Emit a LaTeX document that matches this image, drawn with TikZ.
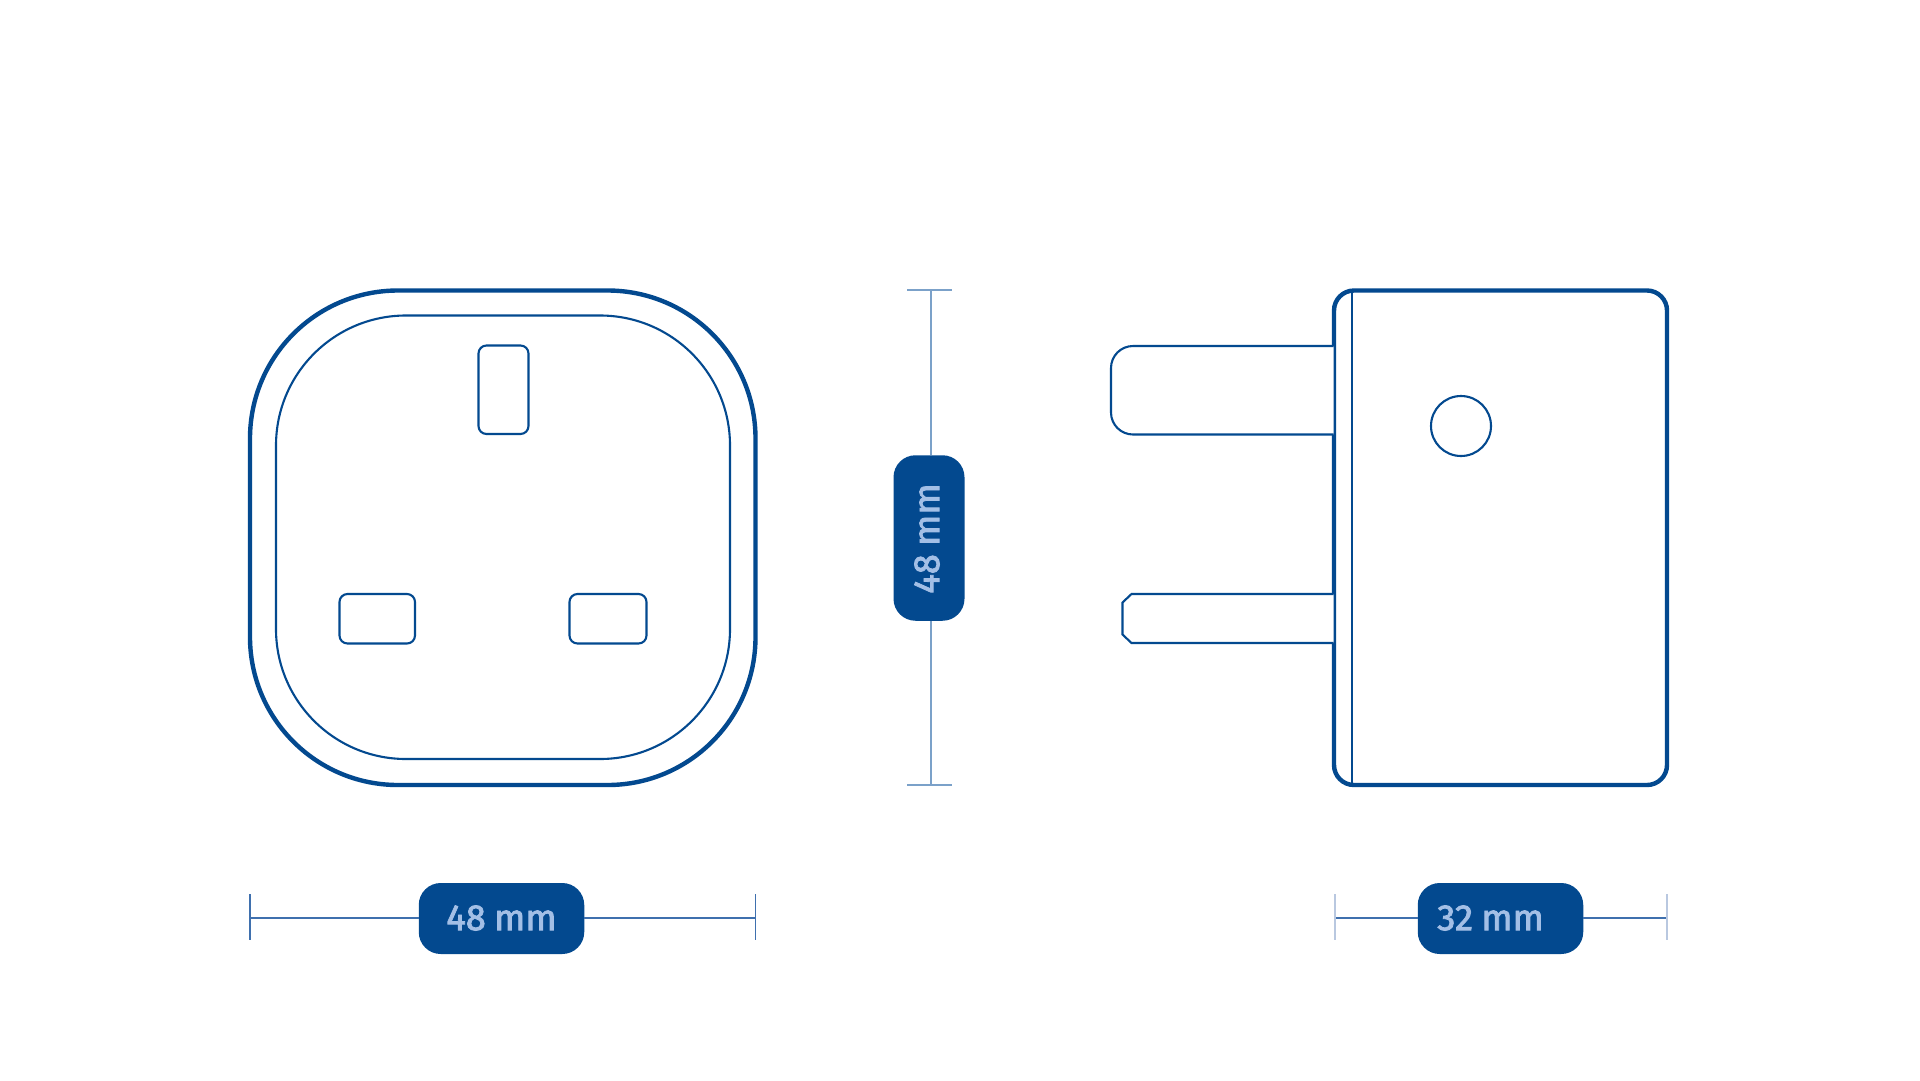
\documentclass[tikz,border=0pt]{standalone}
\usepackage{fontspec}
\newfontfamily\badgefont[WordSpace=0.85,FakeBold=2.2]{Fira Sans}
\setmainfont{Fira Sans}
\definecolor{navy}{HTML}{03498F}
\definecolor{dimline}{HTML}{3F70AE}
\definecolor{dimpale}{HTML}{7BA1C9}
\definecolor{dimlight}{HTML}{B9C8E0}
\definecolor{badgetext}{HTML}{A3BFE6}
\tikzset{
  x=1pt,y=-1pt,
  thick outline/.style={draw=navy,line width=4.4pt},
  thin outline/.style={draw=navy,line width=2.1pt},
  dimension/.style={draw=dimline,line width=1.8pt},
  dimension tick/.style={draw=dimline,line width=1.8pt},
  pale dimension/.style={draw=dimpale,line width=2.6pt},
  light tick/.style={draw=dimlight,line width=2.4pt},
  badge/.style={fill=navy,rounded corners=22pt,inner sep=0pt,draw=none},
  badgelabel/.style={text=badgetext,inner sep=0pt,font=\badgefont\fontsize{36.5}{38}\selectfont}
}
\begin{document}
\begin{tikzpicture}
\useasboundingbox (0,0) rectangle (1920,1080);
\fill[white] (0,0) rectangle (1920,1080);
% front view
\draw[thick outline,rounded corners=148pt] (250,290.5) rectangle (755.5,785);
\draw[thin outline,rounded corners=130pt] (276,315.5) rectangle (730,759);
\draw[thin outline,rounded corners=8pt] (478.5,345.5) rectangle (528.5,434);
\draw[thin outline,rounded corners=8pt] (339.5,594) rectangle (415,643.5);
\draw[thin outline,rounded corners=8pt] (569.5,594) rectangle (646.5,643.5);
% side view
\draw[thick outline,rounded corners=20pt] (1334,290.5) rectangle (1667,785);
\draw[thin outline] (1352,290.5) -- (1352,785);
\draw[thin outline,fill=white,rounded corners=22pt] (1333.6,346) -- (1111,346) -- (1111,434.5) -- (1333.6,434.5);
\draw[thin outline,fill=white] (1333.6,594) -- (1131.5,594) -- (1122.5,602.5) -- (1122.5,634.5) -- (1131.5,643) -- (1333.6,643);
\draw[thin outline] (1461,426) circle (30);
% bottom left dimension
\coordinate (al) at (250,918);
\coordinate (ar) at (755.5,918);
\node[badge,minimum width=165.5pt,minimum height=71pt] (ba) at (501.5,918.5) {};
\node[badgelabel] (ta) at (501.5,918) {48 mm};
\draw[dimension] (al) -- (al -| ba.west);
\draw[dimension] (ar -| ba.east) -- (ar);
\draw[dimension tick] (250,894) -- (250,939.5);
\draw[dimension tick] (755.5,894) -- (755.5,939.5);
% bottom right dimension
\coordinate (bl) at (1335,918);
\coordinate (br) at (1667,918);
\node[badge,minimum width=165.5pt,minimum height=71pt] (bb) at (1500.5,918.5) {};
\node[badgelabel] (tb) at (1490.5,918) {32 mm};
\draw[dimension] (bl) -- (bl -| bb.west);
\draw[dimension] (br -| bb.east) -- (br);
\draw[light tick] (1335,894) -- (1335,939.5);
\draw[light tick] (1667,894) -- (1667,939.5);
% vertical dimension
\coordinate (ct) at (931,290);
\coordinate (cb) at (931,785);
\node[badge,minimum width=71pt,minimum height=165.5pt] (bc) at (929,538) {};
\node[badgelabel,rotate=90] (tc) at (927,538.5) {48 mm};
\draw[pale dimension] (ct) -- (ct |- bc.north);
\draw[pale dimension] (cb |- bc.south) -- (cb);
\draw[pale dimension] (907,290) -- (951.5,290);
\draw[pale dimension] (907,785) -- (951.5,785);
\end{tikzpicture}
\end{document}
